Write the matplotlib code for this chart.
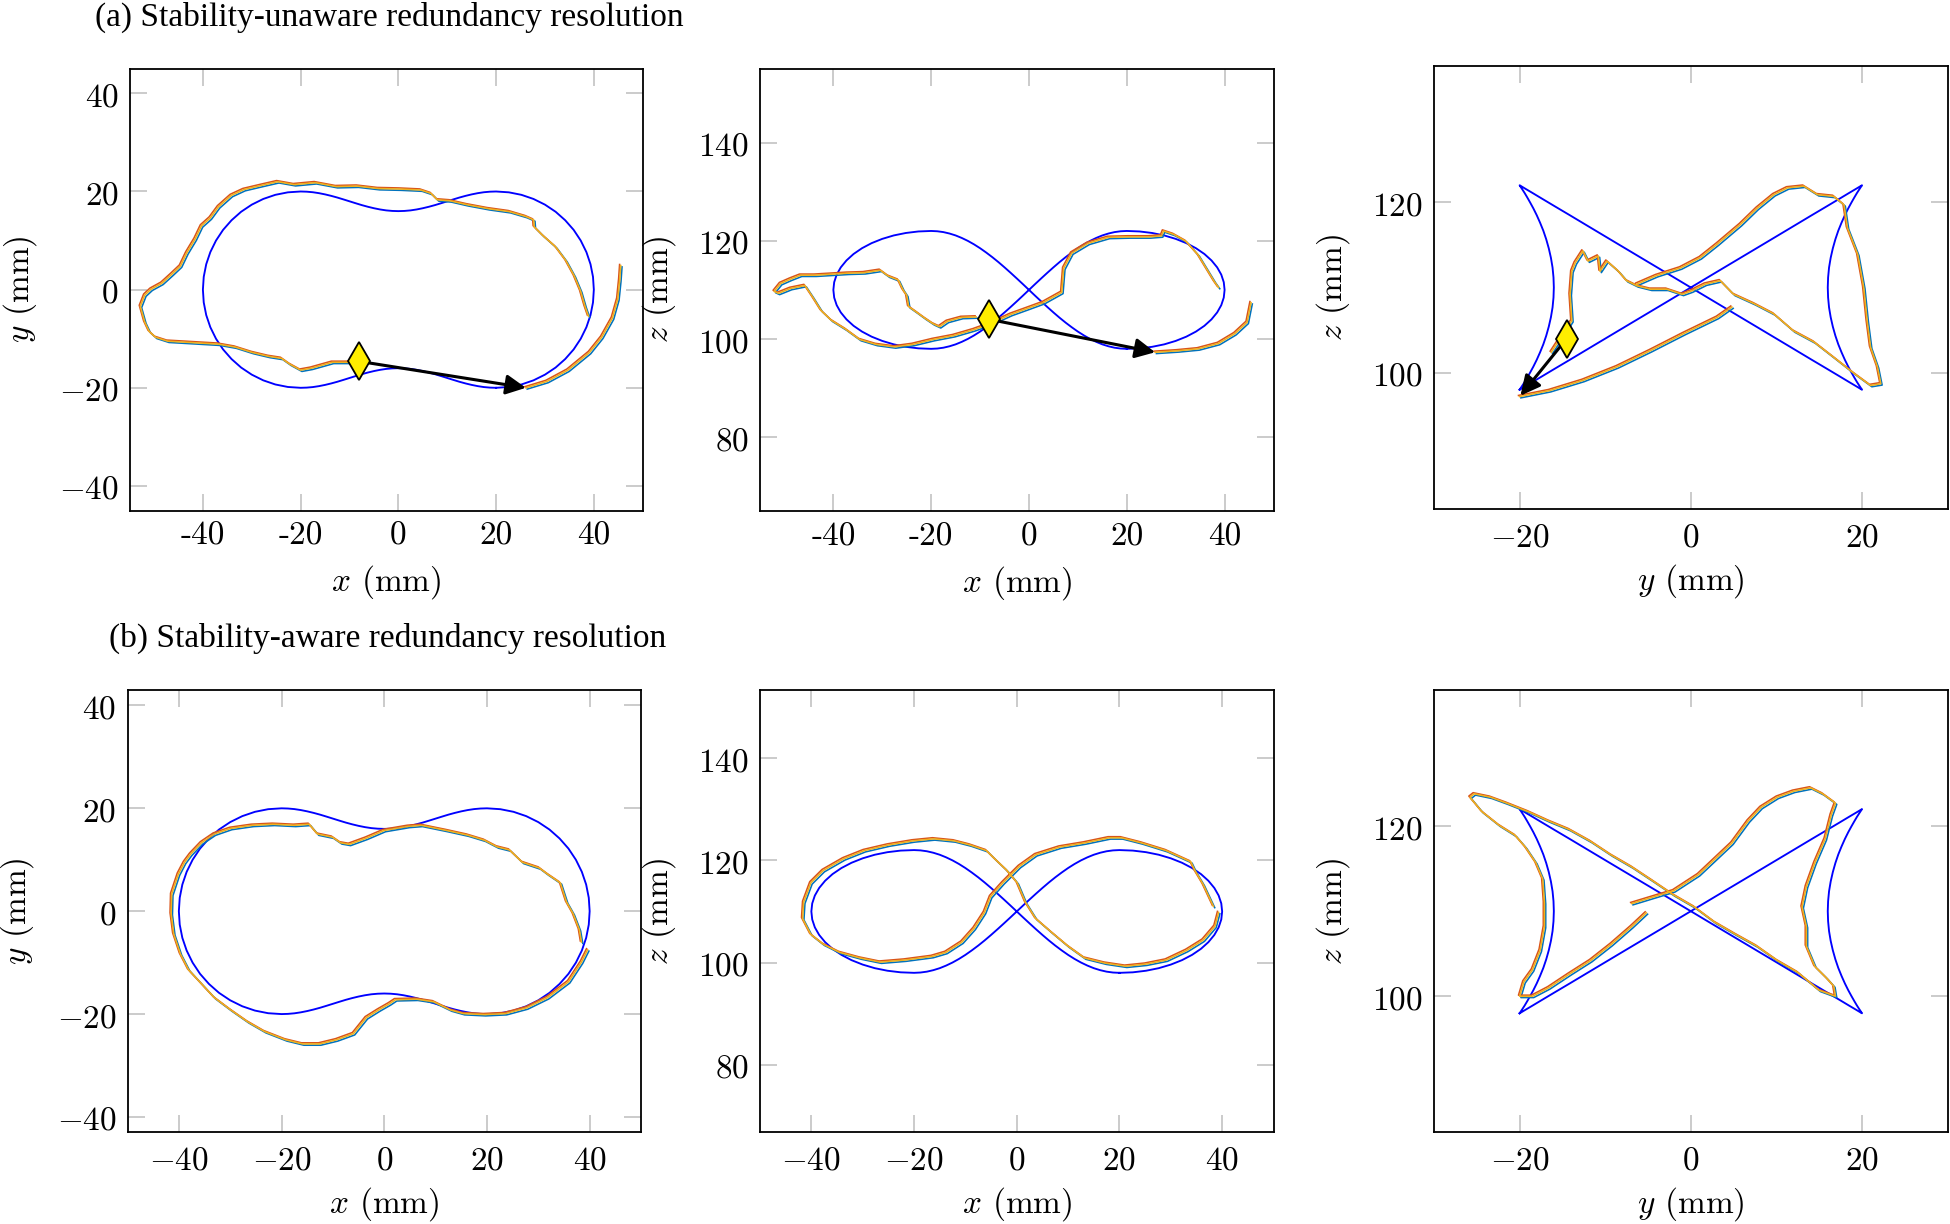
import numpy as np
import matplotlib.pyplot as plt
from matplotlib.transforms import offset_copy

plt.rcParams['mathtext.fontset'] = 'cm'

# reference path (x, y, z) in mm: one closed 3D loop, shown in the three projections
ref_path = [
    (20, -20, 98), (22.61, -19.83, 98.10), (25.18, -19.32, 98.41), (27.65, -18.48, 98.91),
    (30, -17.32, 99.61), (32.18, -15.87, 100.48), (34.14, -14.14, 101.51), (35.87, -12.18, 102.69),
    (37.32, -10, 104), (38.48, -7.65, 105.41), (39.32, -5.18, 106.89), (39.83, -2.61, 108.43),
    (40, 0, 110), (39.83, 2.61, 111.57), (39.32, 5.18, 113.11), (38.48, 7.65, 114.59),
    (37.32, 10, 116), (35.87, 12.18, 117.31), (34.14, 14.14, 118.49), (32.18, 15.87, 119.52),
    (30, 17.32, 120.39), (27.65, 18.48, 121.09), (25.18, 19.32, 121.59), (22.61, 19.83, 121.90),
    (20, 20, 122),
    (18.75, 19.96, 121.94), (17.5, 19.85, 121.77), (16.25, 19.66, 121.48), (15, 19.41, 121.09),
    (13.75, 19.11, 120.58), (12.5, 18.77, 119.98), (11.25, 18.39, 119.28), (10, 18.0, 118.49),
    (8.75, 17.61, 117.61), (7.5, 17.23, 116.67), (6.25, 16.89, 115.66), (5, 16.59, 114.59),
    (3.75, 16.34, 113.48), (2.5, 16.15, 112.34), (1.25, 16.04, 111.18), (0, 16, 110),
    (-1.25, 16.04, 108.82), (-2.5, 16.15, 107.66), (-3.75, 16.34, 106.52), (-5, 16.59, 105.41),
    (-6.25, 16.89, 104.34), (-7.5, 17.23, 103.33), (-8.75, 17.61, 102.39), (-10, 18.0, 101.51),
    (-11.25, 18.39, 100.72), (-12.5, 18.77, 100.02), (-13.75, 19.11, 99.42), (-15, 19.41, 98.91),
    (-16.25, 19.66, 98.52), (-17.5, 19.85, 98.23), (-18.75, 19.96, 98.06), (-20, 20, 98),
    (-22.61, 19.83, 98.10), (-25.18, 19.32, 98.41), (-27.65, 18.48, 98.91), (-30, 17.32, 99.61),
    (-32.18, 15.87, 100.48), (-34.14, 14.14, 101.51), (-35.87, 12.18, 102.69), (-37.32, 10, 104),
    (-38.48, 7.65, 105.41), (-39.32, 5.18, 106.89), (-39.83, 2.61, 108.43), (-40, 0, 110),
    (-39.83, -2.61, 111.57), (-39.32, -5.18, 113.11), (-38.48, -7.65, 114.59), (-37.32, -10, 116),
    (-35.87, -12.18, 117.31), (-34.14, -14.14, 118.49), (-32.18, -15.87, 119.52), (-30, -17.32, 120.39),
    (-27.65, -18.48, 121.09), (-25.18, -19.32, 121.59), (-22.61, -19.83, 121.90), (-20, -20, 122),
    (-18.75, -19.96, 121.94), (-17.5, -19.85, 121.77), (-16.25, -19.66, 121.48), (-15, -19.41, 121.09),
    (-13.75, -19.11, 120.58), (-12.5, -18.77, 119.98), (-11.25, -18.39, 119.28), (-10, -18.0, 118.49),
    (-8.75, -17.61, 117.61), (-7.5, -17.23, 116.67), (-6.25, -16.89, 115.66), (-5, -16.59, 114.59),
    (-3.75, -16.34, 113.48), (-2.5, -16.15, 112.34), (-1.25, -16.04, 111.18), (0, -16, 110),
    (1.25, -16.04, 108.82), (2.5, -16.15, 107.66), (3.75, -16.34, 106.52), (5, -16.59, 105.41),
    (6.25, -16.89, 104.34), (7.5, -17.23, 103.33), (8.75, -17.61, 102.39), (10, -18.0, 101.51),
    (11.25, -18.39, 100.72), (12.5, -18.77, 100.02), (13.75, -19.11, 99.42), (15, -19.41, 98.91),
    (16.25, -19.66, 98.52), (17.5, -19.85, 98.23), (18.75, -19.96, 98.06), (20, -20, 98),
]

# (a) stability-unaware runs
ua_xy = [(-9.7, -14.8), (-13.5, -14.8), (-17.8, -16.0), (-20.0, -16.4), (-22.2, -15.2), (-23.9, -14.0),
         (-26.5, -13.6), (-29.9, -12.8), (-33.4, -11.7), (-36.8, -11.1), (-40.3, -10.9), (-43.7, -10.7),
         (-47.2, -10.5), (-49.7, -9.7), (-51.0, -8.5), (-51.9, -6.6), (-52.8, -3.4), (-51.9, -1.1),
         (-50.6, 0.1), (-48.4, 1.3), (-46.3, 3.2), (-44.6, 4.8), (-43.3, 7.5), (-41.6, 10.3), (-40.3, 13.0),
         (-38.5, 14.6), (-36.8, 16.9), (-34.2, 19.2), (-31.6, 20.4), (-28.2, 21.2), (-24.7, 22.0),
         (-21.3, 21.4), (-17.0, 21.8), (-12.7, 21.0), (-8.4, 21.1), (-4.1, 20.6), (0.3, 20.5), (4.6, 20.3),
         (6.7, 19.6), (8.0, 18.3), (10.6, 18.1), (14.1, 17.3), (18.4, 16.5), (22.7, 15.9), (26.1, 14.9),
         (27.7, 14.2), (27.8, 12.8), (29.6, 11.0), (32.2, 8.7), (34.3, 5.9), (36.0, 2.8), (37.3, -0.3),
         (38.2, -3.4), (38.9, -5.4)]
ua_xy_tail = [(26.1, -20.0), (30.4, -18.7), (34.7, -16.4), (39.1, -12.8), (41.6, -9.7), (43.8, -5.8),
              (44.9, -1.9), (45.3, 2.0), (45.5, 4.9)]

ua_xz = [(-10.8, 104.5), (-13.75, 104.4), (-16.7, 103.6), (-18.3, 102.5), (-19.6, 103.1), (-21.25, 104.2),
         (-22.9, 105.4), (-24.6, 106.6), (-25.0, 108.9), (-25.8, 110.1), (-26.7, 112.0), (-28.75, 112.8),
         (-30.4, 114.0), (-33.75, 113.5), (-37.1, 113.4), (-40.4, 113.2), (-43.75, 113.0), (-46.7, 113.0),
         (-48.75, 112.2), (-50.8, 111.3), (-52.1, 109.7), (-51.25, 109.3), (-48.75, 110.3), (-45.8, 110.9),
         (-44.2, 108.5), (-42.5, 105.8), (-40.4, 103.8), (-37.5, 102.0), (-34.6, 99.9), (-31.25, 98.9),
         (-27.5, 98.4), (-23.75, 98.9), (-19.6, 99.9), (-15.4, 100.7), (-11.25, 101.9), (-7.9, 103.1),
         (-3.75, 105.0), (-0.4, 106.2), (2.9, 107.4), (6.7, 109.5), (7.1, 114.4), (8.75, 117.5),
         (12.1, 119.5), (16.25, 120.7), (20.4, 120.8), (24.6, 120.8), (27.1, 121.0), (27.5, 122.0),
         (29.6, 121.3), (32.1, 119.9), (34.6, 117.1), (36.25, 114.4), (37.9, 111.7), (38.75, 110.5)]
ua_xz_tail = [(25.8, 97.3), (30.4, 97.6), (34.6, 98.0), (38.75, 99.1), (42.1, 101.1), (44.6, 103.4),
              (45.4, 107.4)]

ua_yz = [(-16.3, 102.4), (-13.9, 106.1), (-14.1, 109.2), (-13.9, 111.9), (-13.5, 112.9), (-12.6, 114.3),
         (-12.0, 113.1), (-10.8, 113.7), (-10.6, 111.9), (-9.8, 113.1), (-8.45, 111.9), (-7.5, 110.8),
         (-6.3, 110.2), (-4.7, 109.8), (-2.8, 109.8), (-1.0, 109.2), (0.1, 109.6), (1.7, 110.4),
         (3.45, 110.8), (5.0, 109.2), (7.4, 108.1), (9.7, 106.9), (12.0, 104.9), (14.4, 103.6),
         (16.7, 101.8), (19.1, 99.9), (21.0, 98.5), (22.2, 98.7), (21.8, 100.7), (21.0, 103.0),
         (20.6, 106.1), (20.2, 110.0), (19.5, 113.9), (18.3, 117.0), (17.9, 119.7), (16.7, 120.7),
         (14.8, 120.9), (13.2, 121.9), (11.3, 121.7), (9.7, 120.9), (7.75, 119.3), (5.8, 117.4),
         (3.1, 115.1), (1.1, 113.5), (-1.2, 112.3), (-4.0, 111.4), (-6.3, 110.4)]
ua_yz_tail = [(-20.0, 97.2), (-16.5, 97.9), (-12.6, 99.1), (-8.6, 100.7), (-4.7, 102.6), (-0.8, 104.6),
              (3.1, 106.5), (4.8, 107.7)]

# start marker and jump arrow tip per view
ua_start = [(-8.1, -14.6), (-8.1, 104.0), (-14.5, 104.0)]
ua_jump = [(26.1, -20.0), (25.8, 97.3), (-19.9, 97.3)]

# (b) stability-aware runs
aw_xy = [(39.6, -7.5), (38.4, -9.9), (35.9, -13.7), (31.8, -16.8), (27.7, -18.8), (23.6, -19.9),
         (19.5, -20.1), (15.4, -19.9), (12.9, -19.2), (9.6, -17.6), (6.3, -17.1), (2.2, -17.2),
         (1.0, -18.0), (-1.1, -19.2), (-3.5, -20.7), (-6.0, -23.8), (-9.3, -25.0), (-12.6, -25.8),
         (-15.9, -25.8), (-19.2, -25.0), (-23.3, -23.4), (-26.6, -21.5), (-29.9, -19.2), (-33.1, -16.8),
         (-35.6, -14.1), (-38.1, -11.4), (-39.7, -8.3), (-41.0, -4.4), (-41.5, -0.5), (-41.4, 3.3),
         (-40.1, 7.2), (-38.9, 9.5), (-37.7, 11.1), (-35.6, 13.3), (-33.1, 15.0), (-29.9, 16.1),
         (-25.7, 16.7), (-21.6, 16.9), (-17.5, 16.7), (-14.6, 16.9), (-13.0, 15.0), (-10.1, 14.4),
         (-8.5, 13.3), (-6.8, 13.0), (-3.5, 14.2), (0.0, 15.7), (4.7, 16.5), (7.2, 16.7), (12.1, 15.7),
         (16.2, 14.8), (19.5, 13.8), (22.0, 12.5), (24.4, 11.9), (26.9, 9.5), (30.2, 8.4), (31.8, 7.2),
         (34.3, 5.5), (35.5, 1.8), (36.8, -0.5), (38.0, -3.6), (38.4, -6.0)]

aw_xz = [(39.3, 109.8), (38.6, 107.1), (36.3, 104.4), (33.1, 102.4), (29.1, 100.5), (25.1, 99.7),
         (21.2, 99.3), (17.2, 99.9), (13.2, 100.9), (10.0, 103.2), (6.8, 105.9), (3.7, 108.6),
         (1.7, 111.8), (0.1, 115.6), (-1.9, 118.0), (-4.3, 120.3), (-5.9, 121.9), (-9.1, 123.0),
         (-12.2, 123.8), (-16.2, 124.2), (-20.2, 123.8), (-25.0, 123.0), (-29.7, 121.9), (-33.7, 120.3),
         (-37.7, 118.0), (-40.1, 115.6), (-41.5, 111.8), (-41.7, 108.6), (-40.1, 105.5), (-37.7, 103.6),
         (-34.5, 102.0), (-30.5, 100.9), (-26.6, 100.1), (-21.8, 100.5), (-16.5, 101.2), (-13.8, 102.0),
         (-10.7, 104.0), (-8.3, 106.7), (-6.3, 109.8), (-5.1, 112.9), (-2.7, 115.6), (0.5, 118.8),
         (3.7, 121.1), (8.4, 122.6), (13.2, 123.4), (18.0, 124.4), (20.4, 124.4), (24.3, 123.4),
         (29.1, 121.9), (33.9, 119.7), (34.7, 118.0), (36.3, 115.3), (38.3, 111.0)]

aw_yz = [(-6.9, 110.9), (-2.0, 112.4), (0.9, 114.3), (2.8, 116.1), (4.8, 118.0), (6.7, 120.6),
         (8.2, 122.2), (10.1, 123.4), (12.0, 124.1), (14.0, 124.5), (15.4, 123.8), (16.9, 122.7),
         (16.4, 121.3), (15.7, 118.5), (14.5, 115.7), (13.5, 112.9), (13.0, 110.5), (13.5, 108.2),
         (13.5, 105.9), (14.5, 103.5), (15.9, 102.1), (16.7, 101.2), (16.9, 100.0), (15.0, 100.7),
         (12.5, 102.8), (10.1, 104.2), (7.7, 105.9), (5.2, 107.3), (2.8, 108.7), (0.4, 110.5),
         (-2.0, 111.9), (-4.5, 113.6), (-6.9, 115.2), (-9.3, 116.6), (-11.7, 118.2), (-14.2, 119.6),
         (-16.6, 120.6), (-19.0, 121.7), (-21.5, 122.7), (-23.4, 123.4), (-25.3, 123.8), (-25.8, 123.4),
         (-24.4, 121.7), (-22.4, 120.1), (-20.5, 118.9), (-19.3, 117.5), (-18.1, 115.7), (-17.3, 113.8),
         (-17.1, 111.0), (-17.1, 108.2), (-17.6, 105.4), (-18.5, 103.1), (-19.5, 101.7), (-20.0, 100.0),
         (-18.5, 100.0), (-16.6, 101.0), (-14.2, 102.6), (-11.7, 104.2), (-9.3, 106.1), (-6.9, 108.2),
         (-5.2, 109.8)]

W, H = 1950, 1224
fig = plt.figure(figsize=(W / 100, H / 100), dpi=100)

# axes boxes in pixels: left, right, top, bottom
boxes = [[(129.6, 642.7, 68.8, 510.5), (760, 1273.5, 68.9, 510.9), (1434, 1947.6, 66, 509)],
         [(127.5, 641, 690, 1132.4), (760, 1273.5, 690, 1132.4), (1434, 1947.6, 690, 1132.4)]]
xlims = [[(-55, 50), (-55, 50), (-30, 30)], [(-50, 50), (-50, 50), (-30, 30)]]
ylims = [[(-45, 45), (65, 155), (84, 136)], [(-43, 43), (66.8, 153.3), (84, 136)]]
xticks = [[-40, -20, 0, 20, 40], [-40, -20, 0, 20, 40], [-20, 0, 20]]
yticks = [[-40, -20, 0, 20, 40], [80, 100, 120, 140], [100, 120]]
xnames = ['$x$', '$x$', '$y$']
ynames = ['$y$', '$z$', '$z$']
ref = np.array(ref_path)
ref_views = [(ref[:, 0], ref[:, 1]), (ref[:, 0], ref[:, 2]), (ref[:, 1], ref[:, 2])]
runs = [[ua_xy, ua_xz, ua_yz], [aw_xy, aw_xz, aw_yz]]
tails = [ua_xy_tail, ua_xz_tail, ua_yz_tail]
# three repeated runs drawn with a small pixel shift so all colours show
run_styles = [('#0072BD', 1.3, -1.3), ('#D95319', -1.1, 1.1), ('#EDB120', 0.0, 0.0)]


def draw_run(ax, pts):
    p = np.array(pts)
    for c, dx, dy in run_styles:
        tr = offset_copy(ax.transData, fig=fig, x=dx, y=dy, units='dots')
        ax.plot(p[:, 0], p[:, 1], color=c, lw=1.15, transform=tr, zorder=3)


def tick_text(v, hyphen):
    if hyphen:
        return str(v)
    return '$%d$' % v if v >= 0 else '$-%d$' % abs(v)


for r in range(2):
    for c in range(3):
        l, rr, t, b = boxes[r][c]
        ax = fig.add_axes([l / W, 1 - b / H, (rr - l) / W, (b - t) / H])
        rx, ry = ref_views[c]
        ax.plot(rx, ry, color='#0000FF', lw=1.35, zorder=2)
        draw_run(ax, runs[r][c])
        if r == 0:
            draw_run(ax, tails[c])
            ax.annotate('', xy=ua_jump[c], xytext=ua_start[c],
                        arrowprops=dict(arrowstyle='-|>', color='black', lw=2.2,
                                        mutation_scale=30, shrinkA=0, shrinkB=0), zorder=5)
            ax.plot(*ua_start[c], marker='d', ms=19, mfc='#FFEE00', mec='black', mew=1.3, zorder=6)

        ax.set_xlim(xlims[r][c])
        ax.set_ylim(ylims[r][c])
        hy = (r == 0 and c < 2)
        ax.set_xticks(xticks[c])
        ax.set_xticklabels([tick_text(v, hy) for v in xticks[c]],
                           fontfamily='cmr10' if hy else None)
        ax.set_yticks(yticks[c])
        ax.set_yticklabels([tick_text(v, False) for v in yticks[c]])
        ax.tick_params(direction='in', length=12, width=1.1, color='#bdbdbd',
                       top=True, right=True, labelsize=24, pad=8)
        for s in ax.spines.values():
            s.set_linewidth(1.3)
        ax.set_xlabel(xnames[c] + ' (mm)', fontsize=24, fontfamily='cmr10')
        ax.set_ylabel(ynames[c] + ' (mm)', fontsize=24, fontfamily='cmr10')
        ax.xaxis.label.set_va('center')
        ax.yaxis.label.set_va('center')
        ax.yaxis.label.set_ha('center')
        ax.xaxis.set_label_coords(0.5, -(72 / (b - t)))
        ylab_px = 110 if c == 0 else 101
        ax.yaxis.set_label_coords(-(ylab_px / (rr - l)), 0.5)

fig.text(95 / W, 1 - 17 / H, '(a) Stability-unaware redundancy resolution',
         fontfamily='Liberation Serif', fontsize=24, ha='left', va='center')
fig.text(109 / W, 1 - 638 / H, '(b) Stability-aware redundancy resolution',
         fontfamily='Liberation Serif', fontsize=24, ha='left', va='center')

fig.savefig('out.png', dpi=100)
